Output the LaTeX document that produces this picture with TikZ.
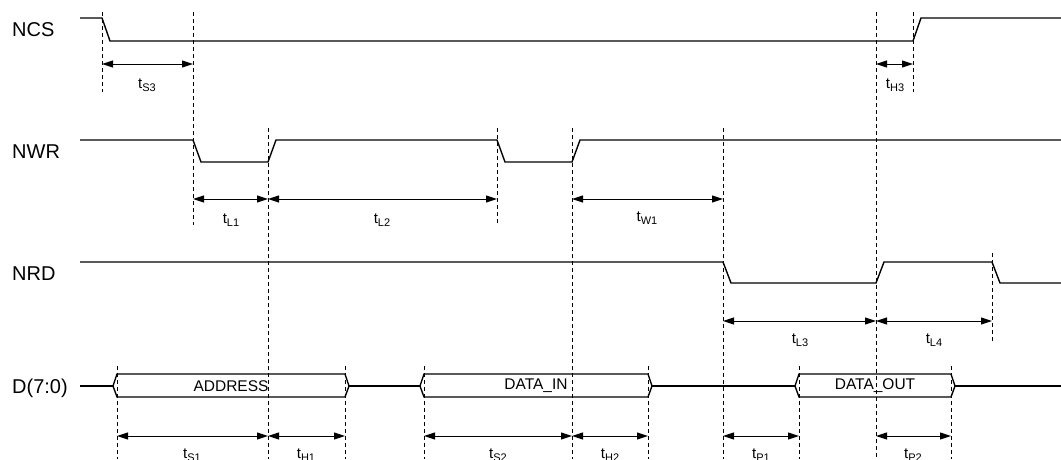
\documentclass[tikz,border=0pt]{standalone}
\usepackage{fontspec}
\setmainfont{Liberation Sans}
\usetikzlibrary{arrows.meta}
\newcommand\tsub[1]{t\raisebox{-3pt}{\fontsize{11}{13}\selectfont #1}}
\begin{document}
\begin{tikzpicture}[x=1pt,y=-1pt,
  sig/.style={line width=1.4pt, line join=miter},
  guide/.style={line width=0.9pt, dash pattern=on 4pt off 3pt},
  dim/.style={line width=1pt, {Triangle[length=11pt,width=7pt]}-{Triangle[length=11pt,width=7pt]}},
  siglabel/.style={anchor=base west, font=\fontsize{20}{24}\selectfont, inner sep=0pt},
  buslabel/.style={font=\fontsize{15.5}{18}\selectfont, inner sep=0pt},
  tlabel/.style={anchor=base, font=\fontsize{15}{18}\selectfont, inner sep=0pt}]
\useasboundingbox (0,0) rectangle (1061,459);

% signal names
\node[siglabel] (ncs) at (12,36) {NCS};
\node[siglabel] (nwr) at (12,158) {NWR};
\node[siglabel] (nrd) at (12,280) {NRD};
\node[siglabel] (dbus) at (12,393) {D(7:0)};

% waveforms
\draw[sig] (80,18) -- (102,18) -- (110,41) -- (913,41) -- (921,18) -- (1061,18);
\draw[sig] (80,140) -- (193,140) -- (201,162) -- (268,162) -- (276,140) -- (497,140)
  -- (505,162) -- (572,162) -- (580,140) -- (1061,140);
\draw[sig] (80,262) -- (723,262) -- (731,283) -- (876,283) -- (884,262) -- (992,262)
  -- (1000,283) -- (1061,283);

% data bus
\draw[sig] (80,386) -- (113,386);
\draw[sig] (113,386) -- (117,374) -- (345,374) -- (349,386) -- (345,397) -- (117,397) -- cycle;
\draw[sig] (349,386) -- (420,386);
\draw[sig] (420,386) -- (424,374) -- (648,374) -- (652,386) -- (648,397) -- (424,397) -- cycle;
\draw[sig] (652,386) -- (795,386);
\draw[sig] (795,386) -- (799,374) -- (951,374) -- (955,386) -- (951,397) -- (799,397) -- cycle;
\draw[sig] (955,386) -- (1061,386);
\node[buslabel] (addr) at (231,386) {ADDRESS};
\node[buslabel] (din) at (536,386) {DATA\_IN};
\node[buslabel] (dout) at (875,386) {DATA\_OUT};

% guide lines
\draw[guide] (102,12) -- (102,92);
\draw[guide] (193,12) -- (193,225);
\draw[guide] (876,12) -- (876,459);
\draw[guide] (913,12) -- (913,92);
\draw[guide] (268,128) -- (268,459);
\draw[guide] (497,128) -- (497,225);
\draw[guide] (572,128) -- (572,459);
\draw[guide] (723,128) -- (723,459);
\draw[guide] (992,253) -- (992,343);
\foreach \x in {117,345,424,648,799,951} \draw[guide] (\x,366) -- (\x,459);

% dimension arrows
\draw[dim] (102,64) -- (193,64);
\draw[dim] (876,64) -- (913,64);
\draw[dim] (193,199) -- (268,199);
\draw[dim] (268,199) -- (497,199);
\draw[dim] (572,199) -- (723,199);
\draw[dim] (723,321) -- (876,321);
\draw[dim] (876,321) -- (992,321);
\draw[dim] (117,436) -- (268,436);
\draw[dim] (268,436) -- (345,436);
\draw[dim] (424,436) -- (572,436);
\draw[dim] (572,436) -- (648,436);
\draw[dim] (723,436) -- (799,436);
\draw[dim] (876,436) -- (951,436);

% timing labels
\node[tlabel] (ts3) at (147,88) {\tsub{S3}};
\node[tlabel] (th3) at (895,88) {\tsub{H3}};
\node[tlabel] (tl1) at (231,223) {\tsub{L1}};
\node[tlabel] (tl2) at (382,223) {\tsub{L2}};
\node[tlabel] (tw1) at (647,221) {\tsub{W1}};
\node[tlabel] (tl3) at (800,343) {\tsub{L3}};
\node[tlabel] (tl4) at (934,343) {\tsub{L4}};
\node[tlabel] (ts1) at (192,458) {\tsub{S1}};
\node[tlabel] (th1) at (306,458) {\tsub{H1}};
\node[tlabel] (ts2) at (498,458) {\tsub{S2}};
\node[tlabel] (th2) at (610,458) {\tsub{H2}};
\node[tlabel] (tp1) at (761,458) {\tsub{P1}};
\node[tlabel] (tp2) at (913,458) {\tsub{P2}};
\end{tikzpicture}
\end{document}
